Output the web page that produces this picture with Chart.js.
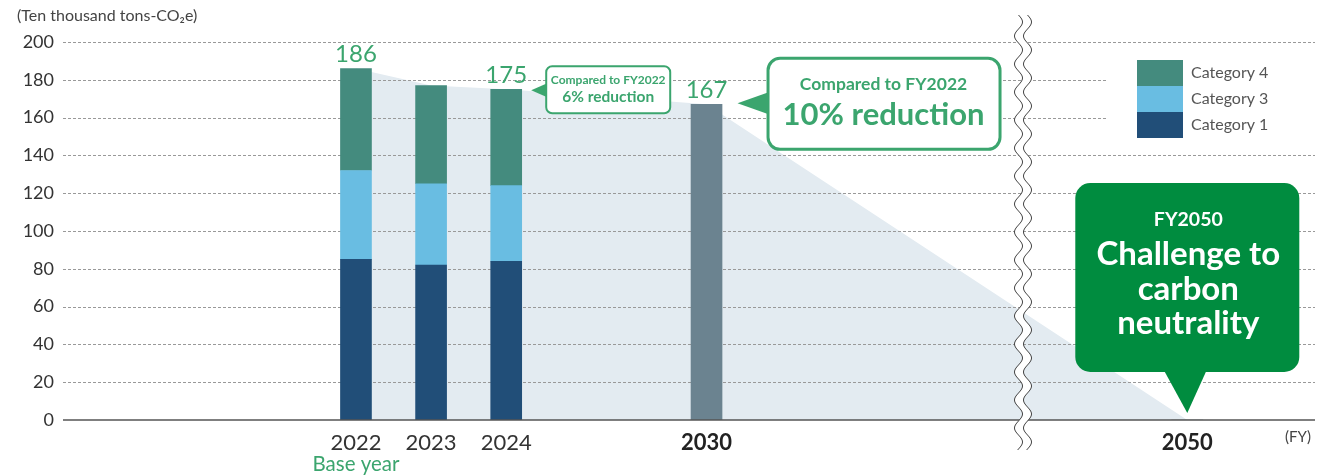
<!DOCTYPE html>
<html lang="en">
<head>
<meta charset="UTF-8">
<title>GHG Emissions Pathway</title>
<script src="https://cdn.jsdelivr.net/npm/chart.js"></script>
<style>
  html, body { margin: 0; padding: 0; background: #fff; }
  #wrap { position: relative; width: 1331px; height: 476px; }
</style>
</head>
<body>
<div id="wrap"><canvas id="emissions-chart"></canvas></div>

<script>
// Emissions by fiscal year (ten thousand tons-CO2e)
const years = ['2022', '2023', '2024', '2030', '2050'];
const category1 = [85, 82, 84, null, null];
const category3 = [47, 43, 40, null, null];
const category4 = [54, 52, 51, null, null];
const target = [null, null, null, 167, 0];
const labelledYears = ['2022', '2024', '2030'];
const boldYears = ['2030', '2050'];
const yTickStep = 20;
const yMax = 200;

// x axis is split into narrow slots so the years can sit at uneven spacing
const SLOTS = 250;
const slotOf = { '2022': 58, '2023': 73, '2024': 88, '2030': 128, '2050': 224 };

const FONT = 'Lato, "Open Sans", sans-serif';
const GREEN = '#3ba56e';
const DARK_GREEN = '#008c3f';
const COLORS = { cat1: '#214e78', cat3: '#69bde2', cat4: '#448b7e', target: '#6b8390', shade: '#e3ebf1' };

const totals = years.map((y, i) =>
  category1[i] != null ? category1[i] + category3[i] + category4[i] : target[i]);

const slotLabels = new Array(SLOTS).fill('');
years.forEach(y => { slotLabels[slotOf[y]] = y; });

function spread(values) {
  const out = new Array(SLOTS).fill(null);
  years.forEach((y, i) => { out[slotOf[y]] = values[i]; });
  return out;
}

function roundRect(ctx, x, y, w, h, r) {
  ctx.beginPath();
  ctx.moveTo(x + r, y);
  ctx.arcTo(x + w, y, x + w, y + h, r);
  ctx.arcTo(x + w, y + h, x, y + h, r);
  ctx.arcTo(x, y + h, x, y, r);
  ctx.arcTo(x, y, x + w, y, r);
  ctx.closePath();
}

function drawBreak(ctx, cx, top, bottom) {
  const amp = 4, period = 28, gap = 9;
  const wave = y => amp * Math.sin((y - top) / period * 2 * Math.PI);
  ctx.save();
  ctx.beginPath();
  for (let y = top; y <= bottom; y++) {
    const x = cx - gap / 2 + wave(y);
    if (y === top) ctx.moveTo(x, y); else ctx.lineTo(x, y);
  }
  for (let y = bottom; y >= top; y--) ctx.lineTo(cx + gap / 2 + wave(y), y);
  ctx.closePath();
  ctx.fillStyle = '#fff';
  ctx.fill();
  ctx.strokeStyle = '#444';
  ctx.lineWidth = 1;
  [-gap / 2, gap / 2].forEach(off => {
    ctx.beginPath();
    for (let y = top; y <= bottom; y++) {
      const x = cx + off + wave(y);
      if (y === top) ctx.moveTo(x, y); else ctx.lineTo(x, y);
    }
    ctx.stroke();
  });
  ctx.restore();
}

function text(ctx, str, x, y, size, color, weight, align) {
  ctx.font = `${weight || 'normal'} ${size}px ${FONT}`;
  ctx.fillStyle = color;
  ctx.textAlign = align || 'center';
  ctx.textBaseline = 'middle';
  ctx.fillText(str, x, y);
}

const decorations = {
  id: 'decorations',
  // dashed grid goes over the shaded pathway but under the bars
  afterDatasetDraw(chart, args) {
    if (args.meta.type !== 'line') return;
    const { ctx, chartArea, scales: { y } } = chart;
    ctx.save();
    ctx.strokeStyle = '#999';
    ctx.lineWidth = 1;
    ctx.setLineDash([3, 2]);
    y.ticks.forEach(t => {
      if (t.value === 0) return;
      const py = Math.round(y.getPixelForValue(t.value)) + 0.5;
      ctx.beginPath();
      ctx.moveTo(chartArea.left, py);
      ctx.lineTo(chartArea.right, py);
      ctx.stroke();
    });
    ctx.restore();
  },
  afterDatasetsDraw(chart) {
    const { ctx, chartArea, scales: { x, y } } = chart;
    const px = yr => x.getPixelForValue(slotOf[yr]);
    const py = v => y.getPixelForValue(v);

    // zero line
    ctx.save();
    ctx.strokeStyle = '#555';
    ctx.lineWidth = 1.5;
    ctx.beginPath();
    ctx.moveTo(chartArea.left, py(0));
    ctx.lineTo(chartArea.right, py(0));
    ctx.stroke();

    // totals above bars
    years.forEach((yr, i) => {
      if (!labelledYears.includes(yr)) return;
      ctx.font = `24px ${FONT}`;
      ctx.fillStyle = GREEN;
      ctx.textAlign = 'center';
      ctx.textBaseline = 'alphabetic';
      ctx.fillText(String(totals[i]), px(yr), py(totals[i]) - 6);
    });

    // axis captions
    text(ctx, '(Ten thousand tons-CO\u2082e)', 17, 16, 16, '#444', 'normal', 'left');
    text(ctx, 'Base year', px('2022'), 464, 20.5, GREEN);
    text(ctx, '(FY)', chartArea.right - 17, 437, 15, '#444');

    // legend
    ctx.fillStyle = '#fff';
    ctx.fillRect(1108, 48, chartArea.right - 1108, 102);
    const legend = [['Category 4', COLORS.cat4], ['Category 3', COLORS.cat3], ['Category 1', COLORS.cat1]];
    legend.forEach(([name, color], i) => {
      ctx.fillStyle = color;
      ctx.fillRect(1137, 60 + i * 26, 46, 26);
      text(ctx, name, 1191, 73 + i * 26, 16, '#555', 'normal', 'left');
    });

    // axis break
    drawBreak(ctx, 1023, 15, 450);

    // callout for FY2024
    const t24x = px('2024') + 25, t24y = py(175) + 1;
    ctx.fillStyle = GREEN;
    ctx.beginPath();
    ctx.moveTo(t24x, t24y);
    ctx.lineTo(t24x + 16, t24y - 7);
    ctx.lineTo(t24x + 16, t24y + 7);
    ctx.closePath();
    ctx.fill();
    roundRect(ctx, t24x + 15, t24y - 24, 124, 47, 6);
    ctx.fillStyle = '#fff';
    ctx.fill();
    ctx.strokeStyle = GREEN;
    ctx.lineWidth = 2;
    ctx.stroke();
    text(ctx, 'Compared to FY2022', t24x + 77, t24y - 10, 12, GREEN, 'bold');
    text(ctx, '6% reduction', t24x + 77, t24y + 7, 15.5, GREEN, 'bold');

    // callout for FY2030
    const t30x = px('2030') + 31, t30y = py(167) - 1;
    ctx.fillStyle = GREEN;
    ctx.beginPath();
    ctx.moveTo(t30x, t30y);
    ctx.lineTo(t30x + 31, t30y - 11);
    ctx.lineTo(t30x + 31, t30y + 11);
    ctx.closePath();
    ctx.fill();
    roundRect(ctx, t30x + 30.5, t30y - 45, 232, 91, 12);
    ctx.fillStyle = '#fff';
    ctx.fill();
    ctx.lineWidth = 3;
    ctx.stroke();
    text(ctx, 'Compared to FY2022', t30x + 146, t30y - 19, 17.5, GREEN, 'bold');
    text(ctx, '10% reduction', t30x + 146, t30y + 12, 31, GREEN, 'bold');

    // FY2050 goal bubble
    const t50x = px('2050'), t50y = py(0) - 7;
    ctx.fillStyle = DARK_GREEN;
    roundRect(ctx, t50x - 112, 183, 224, 189, 15);
    ctx.fill();
    ctx.beginPath();
    ctx.moveTo(t50x - 23, 371);
    ctx.lineTo(t50x + 19, 371);
    ctx.lineTo(t50x, t50y);
    ctx.closePath();
    ctx.fill();
    text(ctx, 'FY2050', t50x + 1, 220, 19.5, '#fff', 'bold');
    text(ctx, 'Challenge to', t50x + 1, 254, 33, '#fff', 'bold');
    text(ctx, 'carbon', t50x + 1, 289, 33, '#fff', 'bold');
    text(ctx, 'neutrality', t50x + 1, 323, 33, '#fff', 'bold');
    ctx.restore();
  }
};

const barDefaults = { stack: 'fy', barThickness: 31, borderWidth: 0, order: 1 };

new Chart(document.getElementById('emissions-chart'), {
  type: 'bar',
  data: {
    labels: slotLabels,
    datasets: [
      { ...barDefaults, label: 'Category 1', data: spread(category1), backgroundColor: COLORS.cat1 },
      { ...barDefaults, label: 'Category 3', data: spread(category3), backgroundColor: COLORS.cat3 },
      { ...barDefaults, label: 'Category 4', data: spread(category4), backgroundColor: COLORS.cat4 },
      { ...barDefaults, label: 'Target', data: spread(target), backgroundColor: COLORS.target },
      {
        type: 'line', label: 'Pathway', stack: 'pathway', order: 5,
        data: spread(totals), spanGaps: true, fill: 'origin',
        backgroundColor: COLORS.shade, borderWidth: 0, pointRadius: 0, tension: 0
      }
    ]
  },
  options: {
    responsive: true,
    maintainAspectRatio: false,
    animation: false,
    layout: { padding: { top: 42, right: 16, bottom: 0, left: 0 } },
    plugins: { legend: { display: false }, tooltip: { enabled: false } },
    scales: {
      x: {
        stacked: true,
        grid: { display: false },
        border: { display: false },
        ticks: {
          autoSkip: false, maxRotation: 0, minRotation: 0, padding: 2,
          color: c => boldYears.includes(slotLabels[c.index]) ? '#222' : '#333',
          font: c => ({ family: FONT, size: 22, weight: boldYears.includes(slotLabels[c.index]) ? 'bold' : 'normal' })
        },
        afterFit: s => { s.height = 56; }
      },
      y: {
        stacked: true,
        min: 0, max: yMax,
        grid: { display: false },
        border: { display: false },
        ticks: { stepSize: yTickStep, padding: 1, color: '#333', font: { family: FONT, size: 18 } },
        afterFit: s => { s.width = 63; }
      }
    }
  },
  plugins: [decorations]
});
</script>
</body>
</html>
